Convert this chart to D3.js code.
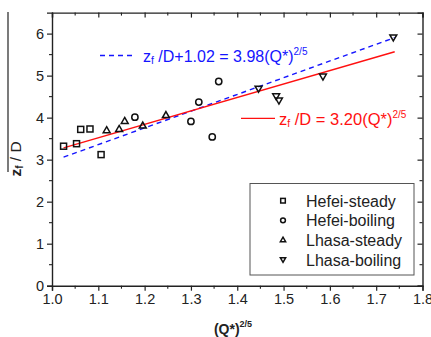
<!DOCTYPE html>
<html><head><meta charset="utf-8">
<script src="https://cdn.jsdelivr.net/npm/d3@7"></script>
<style>body{margin:0;background:#fff}svg{display:block;font-family:Arial,"Liberation Sans",sans-serif}</style>
</head><body><svg id="c" width="431" height="337"></svg>
<script>
// Data
const hefeiSteadyX = [1.025, 1.053, 1.062, 1.082, 1.106];
const hefeiSteadyY = [3.32, 3.38, 3.72, 3.73, 3.12];
const hefeiBoilingX = [1.179, 1.300, 1.317, 1.346, 1.360];
const hefeiBoilingY = [4.01, 3.91, 4.37, 3.54, 4.86];
const lhasaSteadyX = [1.118, 1.145, 1.157, 1.196, 1.246];
const lhasaSteadyY = [3.70, 3.73, 3.92, 3.81, 4.06];
const lhasaBoilingX = [1.446, 1.484, 1.490, 1.585, 1.737];
const lhasaBoilingY = [4.69, 4.51, 4.41, 4.98, 5.91];
const fitX = [1.025, 1.74];
const redCoef = 3.20;            // zf/D = 3.20 (Q*)^(2/5)
const blueCoef = 3.98, blueOff = 1.02; // zf/D + 1.02 = 3.98 (Q*)^(2/5)
const xTicks = [1.0,1.1,1.2,1.3,1.4,1.5,1.6,1.7,1.8];
const yTicks = [0,1,2,3,4,5,6];
const legendLabels = ["Hefei-steady","Hefei-boiling","Lhasa-steady","Lhasa-boiling"];

const svg = d3.select("#c");
const L=52, R=422.5, T=12.6, B=285.7;
const x = d3.scaleLinear().domain([1.0,1.8]).range([L,R]);
const y = d3.scaleLinear().domain([0,6.5]).range([B,T]);
const xMinor = d3.range(1.05,1.8,0.1);
const yMinor = d3.range(0.5,6.5,1);

// axes
const fs = "14.5px";
const ax = svg.append("g").attr("transform",`translate(0,${B})`)
  .call(d3.axisBottom(x).tickValues(xTicks).tickFormat(d3.format(".1f")).tickSize(5).tickPadding(3));
const ay = svg.append("g").attr("transform",`translate(${L},0)`)
  .call(d3.axisLeft(y).tickValues(yTicks).tickFormat(d3.format("d")).tickSize(5).tickPadding(3));
const at = svg.append("g").attr("transform",`translate(0,${T})`)
  .call(d3.axisTop(x).tickValues(xTicks).tickFormat("").tickSize(-5));
const ar = svg.append("g").attr("transform",`translate(${R},0)`)
  .call(d3.axisRight(y).tickValues(yTicks).tickFormat("").tickSize(-5));
[ax,ay,at,ar].forEach(g=>{
  g.select(".domain").attr("stroke","#222").attr("stroke-width",1.4);
  g.selectAll(".tick line").attr("stroke","#222").attr("stroke-width",1.2);
  g.selectAll("text").attr("font-size",fs).attr("fill","#222").attr("font-family","Arial, Liberation Sans, sans-serif");
});
// minor ticks
svg.append("g").selectAll("line").data(xMinor).join("line")
  .attr("x1",d=>x(d)).attr("x2",d=>x(d)).attr("y1",B).attr("y2",B+3).attr("stroke","#222").attr("stroke-width",1.1);
svg.append("g").selectAll("line").data(xMinor).join("line")
  .attr("x1",d=>x(d)).attr("x2",d=>x(d)).attr("y1",T).attr("y2",T+3).attr("stroke","#222").attr("stroke-width",1.1);
svg.append("g").selectAll("line").data(yMinor).join("line")
  .attr("x1",L-3).attr("x2",L).attr("y1",d=>y(d)).attr("y2",d=>y(d)).attr("stroke","#222").attr("stroke-width",1.1);
svg.append("g").selectAll("line").data(yMinor).join("line")
  .attr("x1",R-3).attr("x2",R).attr("y1",d=>y(d)).attr("y2",d=>y(d)).attr("stroke","#222").attr("stroke-width",1.1);

// fit lines
const line = d3.line().x(d=>x(d[0])).y(d=>y(d[1]));
svg.append("path").datum(fitX.map(v=>[v, blueCoef*v-blueOff])).attr("d",line)
  .attr("fill","none").attr("stroke","#1515ff").attr("stroke-width",1.4).attr("stroke-dasharray","5,4");
svg.append("path").datum(fitX.map(v=>[v, redCoef*v])).attr("d",line)
  .attr("fill","none").attr("stroke","#ff1010").attr("stroke-width",1.4);

// markers
const sym = {
  sq:(g,s)=>g.append("rect").attr("x",-s).attr("y",-s).attr("width",2*s).attr("height",2*s),
  ci:(g,s)=>g.append("circle").attr("r",s*1.05),
  tu:(g,s)=>g.append("path").attr("d",`M0,${-s*1.2}L${s*1.15},${s*0.8}L${-s*1.15},${s*0.8}Z`),
  td:(g,s)=>g.append("path").attr("d",`M0,${s*1.2}L${s*1.15},${-s*0.8}L${-s*1.15},${-s*0.8}Z`)
};
function drawSeries(xs,ys,kind){
  xs.forEach((xv,i)=>{
    const g = svg.append("g").attr("transform",`translate(${x(xv)},${y(ys[i])})`);
    sym[kind](g,3).attr("fill","none").attr("stroke","#111").attr("stroke-width",1.5);
  });
}
drawSeries(hefeiSteadyX,hefeiSteadyY,"sq");
drawSeries(hefeiBoilingX,hefeiBoilingY,"ci");
drawSeries(lhasaSteadyX,lhasaSteadyY,"tu");
drawSeries(lhasaBoilingX,lhasaBoilingY,"td");

// annotations
svg.append("line").attr("x1",100).attr("x2",132).attr("y1",55.5).attr("y2",55.5)
  .attr("stroke","#1515ff").attr("stroke-width",1.4).attr("stroke-dasharray","5,4");
const tb = svg.append("text").attr("x",143).attr("y",61.5).attr("fill","#1515ff").attr("font-size","16px");
tb.append("tspan").text("z");
tb.append("tspan").attr("font-size","10.5px").attr("dy",2).text("f");
tb.append("tspan").attr("dy",-2).text(" /D+1.02 = 3.98(Q*)");
tb.append("tspan").attr("font-size","10px").attr("dy",-7).text("2/5");

svg.append("line").attr("x1",241).attr("x2",275).attr("y1",118.3).attr("y2",118.3)
  .attr("stroke","#ff1010").attr("stroke-width",1.3);
const tr = svg.append("text").attr("x",279).attr("y",124.5).attr("fill","#ff1010").attr("font-size","16.5px");
tr.append("tspan").text("z");
tr.append("tspan").attr("font-size","10.5px").attr("dy",2).text("f");
tr.append("tspan").attr("dy",-2).text(" /D = 3.20(Q*)");
tr.append("tspan").attr("font-size","10px").attr("dy",-7).text("2/5");

// legend
svg.append("rect").attr("x",250).attr("y",183.5).attr("width",164).attr("height",91.5)
  .attr("fill","#fff").attr("stroke","#555").attr("stroke-width",1);
const kinds = ["sq","ci","tu","td"];
const ly = d3.scalePoint().domain(legendLabels).range([200.7,259.5]);
legendLabels.forEach((lab,i)=>{
  const g = svg.append("g").attr("transform",`translate(283,${ly(lab)})`);
  sym[kinds[i]](g,2.3).attr("fill","none").attr("stroke","#111").attr("stroke-width",1.5);
  svg.append("text").attr("x",306).attr("y",ly(lab)+6).attr("font-size","16px").attr("fill","#222").text(lab);
});

// axis titles
const xt = svg.append("text").attr("x",233).attr("y",334).attr("text-anchor","middle")
  .attr("font-weight","bold").attr("font-size","14px").attr("fill","#222");
xt.append("tspan").text("(Q*)");
xt.append("tspan").attr("font-size","9px").attr("dy",-7).text("2/5");

const yt = svg.append("text").attr("transform","translate(21,159) rotate(-90)").attr("text-anchor","middle")
  .attr("font-size","15.5px").attr("fill","#222");
yt.append("tspan").attr("font-weight","bold").text("z");
yt.append("tspan").attr("font-size","10px").attr("font-weight","bold").attr("dy",2).text("f");
yt.append("tspan").attr("dy",-2).text(" / D");
svg.append("line").attr("x1",8).attr("x2",8).attr("y1",12).attr("y2",172).attr("stroke","#222").attr("stroke-width",1.2);
</script></body></html>
